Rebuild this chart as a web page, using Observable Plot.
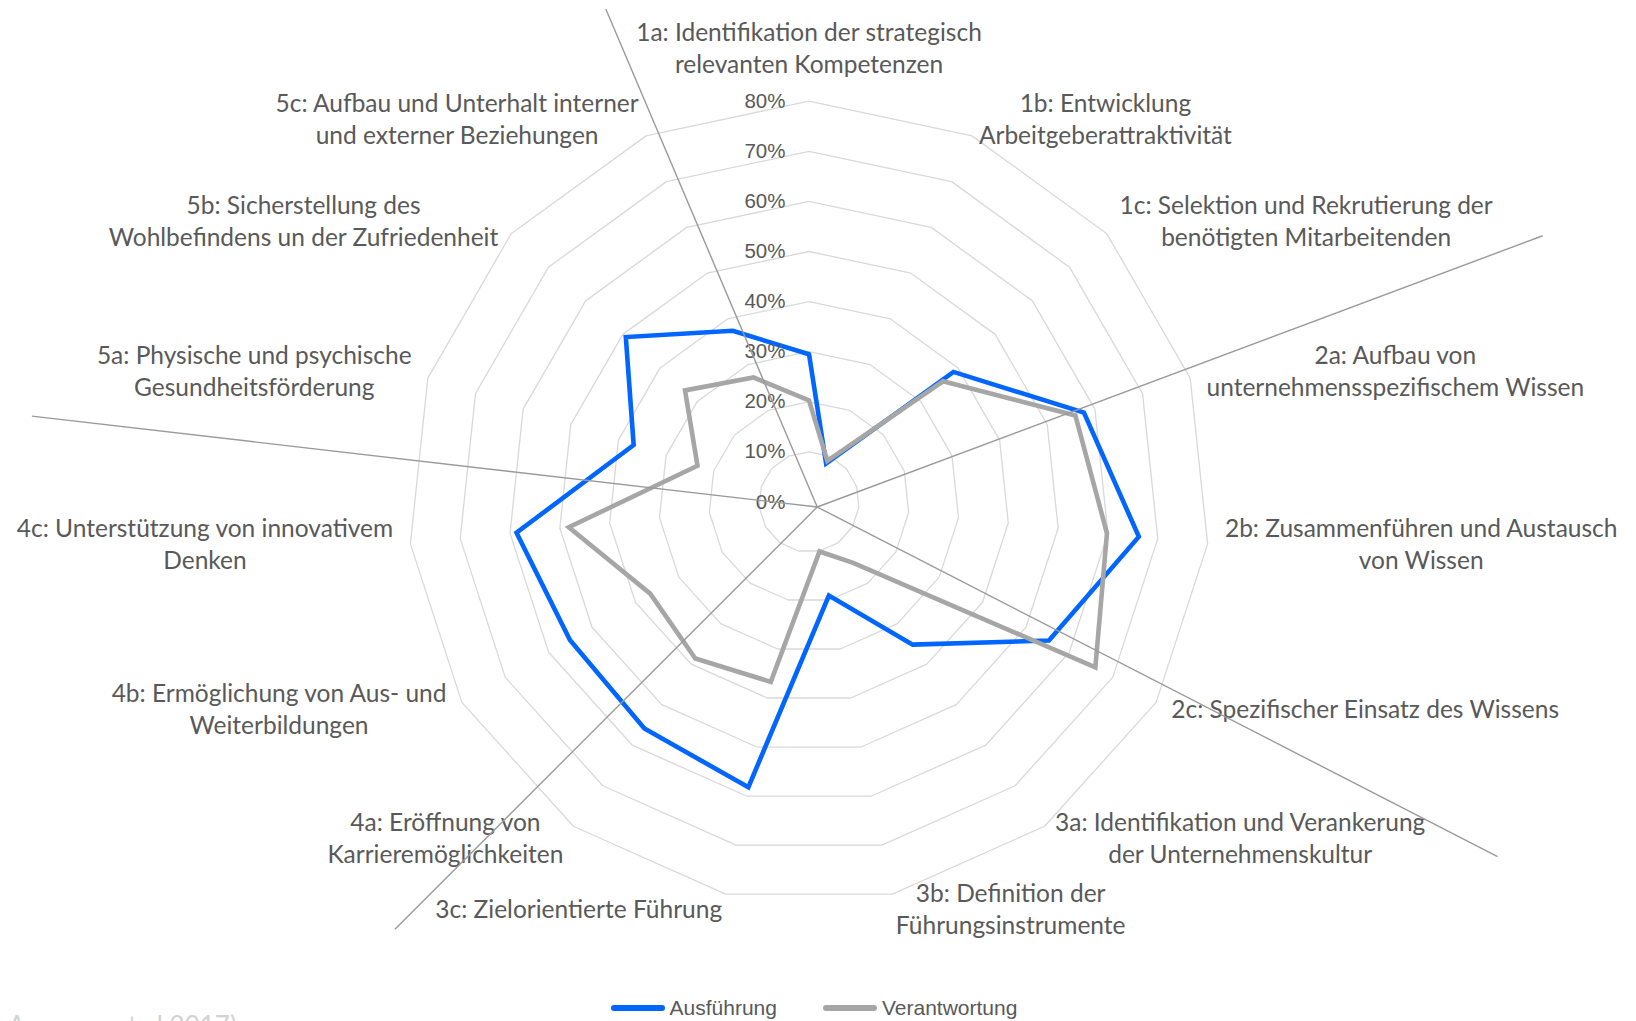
<!DOCTYPE html>
<html>
<head>
<meta charset="utf-8">
<script src="https://cdn.jsdelivr.net/npm/d3@7"></script>
<script src="https://cdn.jsdelivr.net/npm/@observablehq/plot@0.6"></script>
<style>
  html, body { margin: 0; padding: 0; background: #fff; }
  body { position: relative; width: 1636px; height: 1021px; overflow: hidden; }
  #chart svg { display: block; }
  #legend { position: absolute; left: 0; top: 990px; width: 1636px; height: 36px;
    display: flex; justify-content: center; align-items: center; padding-right: 8px; box-sizing: border-box;
    font-family: "Liberation Sans", Arial, sans-serif; font-size: 21px; color: #595959; }
  .item { display: flex; align-items: center; margin: 0 23px; }
  .sw { width: 54px; height: 6px; border-radius: 3px; margin-right: 5px; }
  #caption { position: absolute; left: 8px; top: 1012px; font-family: Lato, sans-serif; font-size: 26px;
    line-height: 1; color: #d2d2d2; white-space: nowrap; }
</style>
</head>
<body>
<div id="chart"></div>
<div id="legend"></div>
<div id="caption"></div>
<script>
// ---------- data ----------
const categories = ["1a","1b","1c","2a","2b","2c","3a","3b","3c","4a","4b","4c","5a","5b","5c"];
const categoryLabels = [
  "1a: Identifikation der strategisch\nrelevanten Kompetenzen",
  "1b: Entwicklung\nArbeitgeberattraktivität",
  "1c: Selektion und Rekrutierung der\nbenötigten Mitarbeitenden",
  "2a: Aufbau von\nunternehmensspezifischem Wissen",
  "2b: Zusammenführen und Austausch\nvon Wissen",
  "2c: Spezifischer Einsatz des Wissens",
  "3a: Identifikation und Verankerung\nder Unternehmenskultur",
  "3b: Definition der\nFührungsinstrumente",
  "3c: Zielorientierte Führung",
  "4a: Eröffnung von\nKarrieremöglichkeiten",
  "4b: Ermöglichung von Aus- und\nWeiterbildungen",
  "4c: Unterstützung von innovativem\nDenken",
  "5a: Physische und psychische\nGesundheitsförderung",
  "5b: Sicherstellung des\nWohlbefindens un der Zufriedenheit",
  "5c: Aufbau und Unterhalt interner\nund externer Beziehungen"
];
const seriesNames = ["Ausführung", "Verantwortung"];
const ausfuehrung   = [29.5, 8.4, 38.8, 57.7, 66.2, 55.3, 35.2, 19.1, 58.2, 55.9, 55.1, 58.7, 36.8, 49.2, 37.4];
const verantwortung = [20.3, 9.0, 36.0, 55.9, 59.8, 66.0, 15.0, 10.1, 36.7, 38.6, 36.6, 48.2, 23.4, 33.3, 27.2];
const tickValues = [0, 10, 20, 30, 40, 50, 60, 70, 80];
const tickLabels = ["0%", "10%", "20%", "30%", "40%", "50%", "60%", "70%", "80%"];
// hand-drawn group separator rays (angle in degrees clockwise from top, length in % units)
const dividerAngles  = [337.0, 69.5, 117.2, 225.0, 276.6];
const dividerLengths = [108.0, 154.6, 152.7, 119.2, 157.8];
const dividerOrigin  = [1.64, -1.0];
const captionText = "Ausserer et al 2017)";

// ---------- layout ----------
const W = 1636, H = 990, CX = 808.5, CY = 501.5, K = 5.01; // px per percent
const blue = "#0066FF", gray = "#A6A6A6", textColor = "#595959";
const n = categories.length;
const ang = i => (i * 360 / n) * Math.PI / 180;
const px = (r, a) => r * Math.sin(a);
const py = (r, a) => r * Math.cos(a);

const rings = [];
for (const L of tickValues.filter(v => v > 0)) {
  for (let i = 0; i <= n; i++) rings.push({L, x: px(L, ang(i % n)), y: py(L, ang(i % n))});
}
const poly = vals => d3.range(n + 1).map(i => ({x: px(vals[i % n], ang(i % n)), y: py(vals[i % n], ang(i % n))}));

const labelFont = 24.5, labelFamily = "Lato", lineH = 1.31;
const ctx = document.createElement("canvas").getContext("2d");
ctx.font = `${labelFont}px ${labelFamily}`;
const labelR = 80 + 17 / K;
const labelData = categoryLabels.map((t, i) => {
  const a = ang(i), lines = t.split("\n");
  const w = d3.max(lines, l => ctx.measureText(l).width);
  const h = lines.length * labelFont * lineH;
  const s = Math.sin(a), c = Math.cos(a);
  const side = Math.abs(s) < 0.05 ? 0 : Math.sign(s);
  return {
    text: t,
    x: px(labelR, a) + side * (w / 2) / K,
    y: py(labelR, a) + (side === 0 ? Math.sign(c) * (h / 2 + 2) / K : 0)
  };
});

const rays = dividerAngles.map((d, i) => {
  const a = d * Math.PI / 180;
  return {x1: dividerOrigin[0], y1: dividerOrigin[1],
          x2: dividerOrigin[0] + px(dividerLengths[i], a), y2: dividerOrigin[1] + py(dividerLengths[i], a)};
});

const chart = Plot.plot({
  width: W, height: H, margin: 0,
  x: {domain: [-CX / K, (W - CX) / K], axis: null},
  y: {domain: [-(H - CY) / K, CY / K], axis: null},
  marks: [
    Plot.line(rings, {x: "x", y: "y", z: "L", stroke: "#D9D9D9", strokeWidth: 1.3}),
    Plot.line(poly(ausfuehrung), {x: "x", y: "y", stroke: blue, strokeWidth: 4.6, strokeLinejoin: "miter", strokeMiterlimit: 2}),
    Plot.line(poly(verantwortung), {x: "x", y: "y", stroke: gray, strokeWidth: 4.6, strokeLinejoin: "miter", strokeMiterlimit: 2}),
    Plot.text(tickValues, {x: () => 0, y: d => d, text: (d, i) => tickLabels[i], textAnchor: "end", dx: -23.5, dy: 0,
      fontSize: 20.5, fontFamily: "Liberation Sans, Arial, sans-serif", fill: textColor}),
    Plot.text(labelData, {x: "x", y: "y", text: "text", textAnchor: "middle", lineAnchor: "middle", lineHeight: lineH,
      dy: -3, fontSize: labelFont, fontFamily: labelFamily, fill: textColor}),
    Plot.link(rays, {x1: "x1", y1: "y1", x2: "x2", y2: "y2", stroke: "#9A9A9A", strokeWidth: 1.4})
  ]
});
document.getElementById("chart").append(chart);

const legend = document.getElementById("legend");
[[seriesNames[0], blue], [seriesNames[1], gray]].forEach(([name, col]) => {
  const it = document.createElement("div"); it.className = "item";
  const sw = document.createElement("div"); sw.className = "sw"; sw.style.background = col;
  const tx = document.createElement("span"); tx.textContent = name;
  it.append(sw, tx); legend.append(it);
});
document.getElementById("caption").textContent = captionText;
</script>
</body>
</html>
